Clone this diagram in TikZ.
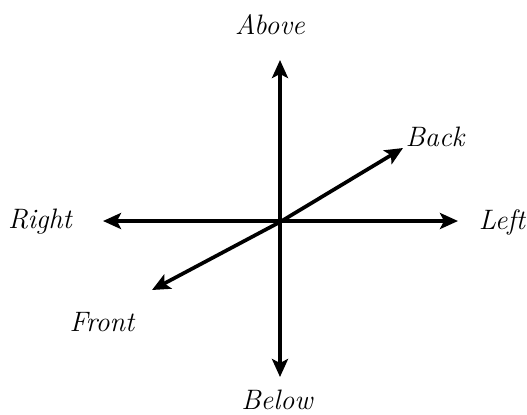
\documentclass[tikz,border=0pt]{standalone}
\usetikzlibrary{positioning,arrows.meta,calc}
\tikzset{
  dirlbl/.style={font=\itshape\fontsize{16}{18}\selectfont, inner sep=0pt},
  axis/.style={line width=2.1pt, {Stealth[length=3.6mm,width=3.2mm,inset=0.8mm]}-{Stealth[length=3.6mm,width=3.2mm,inset=0.8mm]}},
}

\begin{document}
\begin{tikzpicture}[x=0.02cm, y=-0.02cm]
\useasboundingbox (0,0) rectangle (527,414);

% ------------------------------------------------- axis ends
\coordinate (O) at (280,222);
\coordinate (upTip) at (280,60);
\coordinate (downTip) at (280,377);
\coordinate (rightTip) at (103,221);
\coordinate (leftTip) at (458,221);
\coordinate (backTip) at (403,148);
\coordinate (frontTip) at (152,290);

% ------------------------------------------------- labels
\node[dirlbl] (above) at (270,25) {Above};
\node[dirlbl] (below) at (277,400) {Below};
\node[dirlbl] (right) at (40,222) {Right};
\node[dirlbl] (left) at (502,222) {Left};
\node[dirlbl] (back) at (435,137) {Back};
\node[dirlbl] (front) at (102,322) {Front};

% ------------------------------------------------- axes
\draw[axis] (downTip) -- (upTip);
\draw[axis] (rightTip) -- (leftTip);
\draw[axis] (frontTip) -- (O) -- (backTip);

\end{tikzpicture}
\end{document}
